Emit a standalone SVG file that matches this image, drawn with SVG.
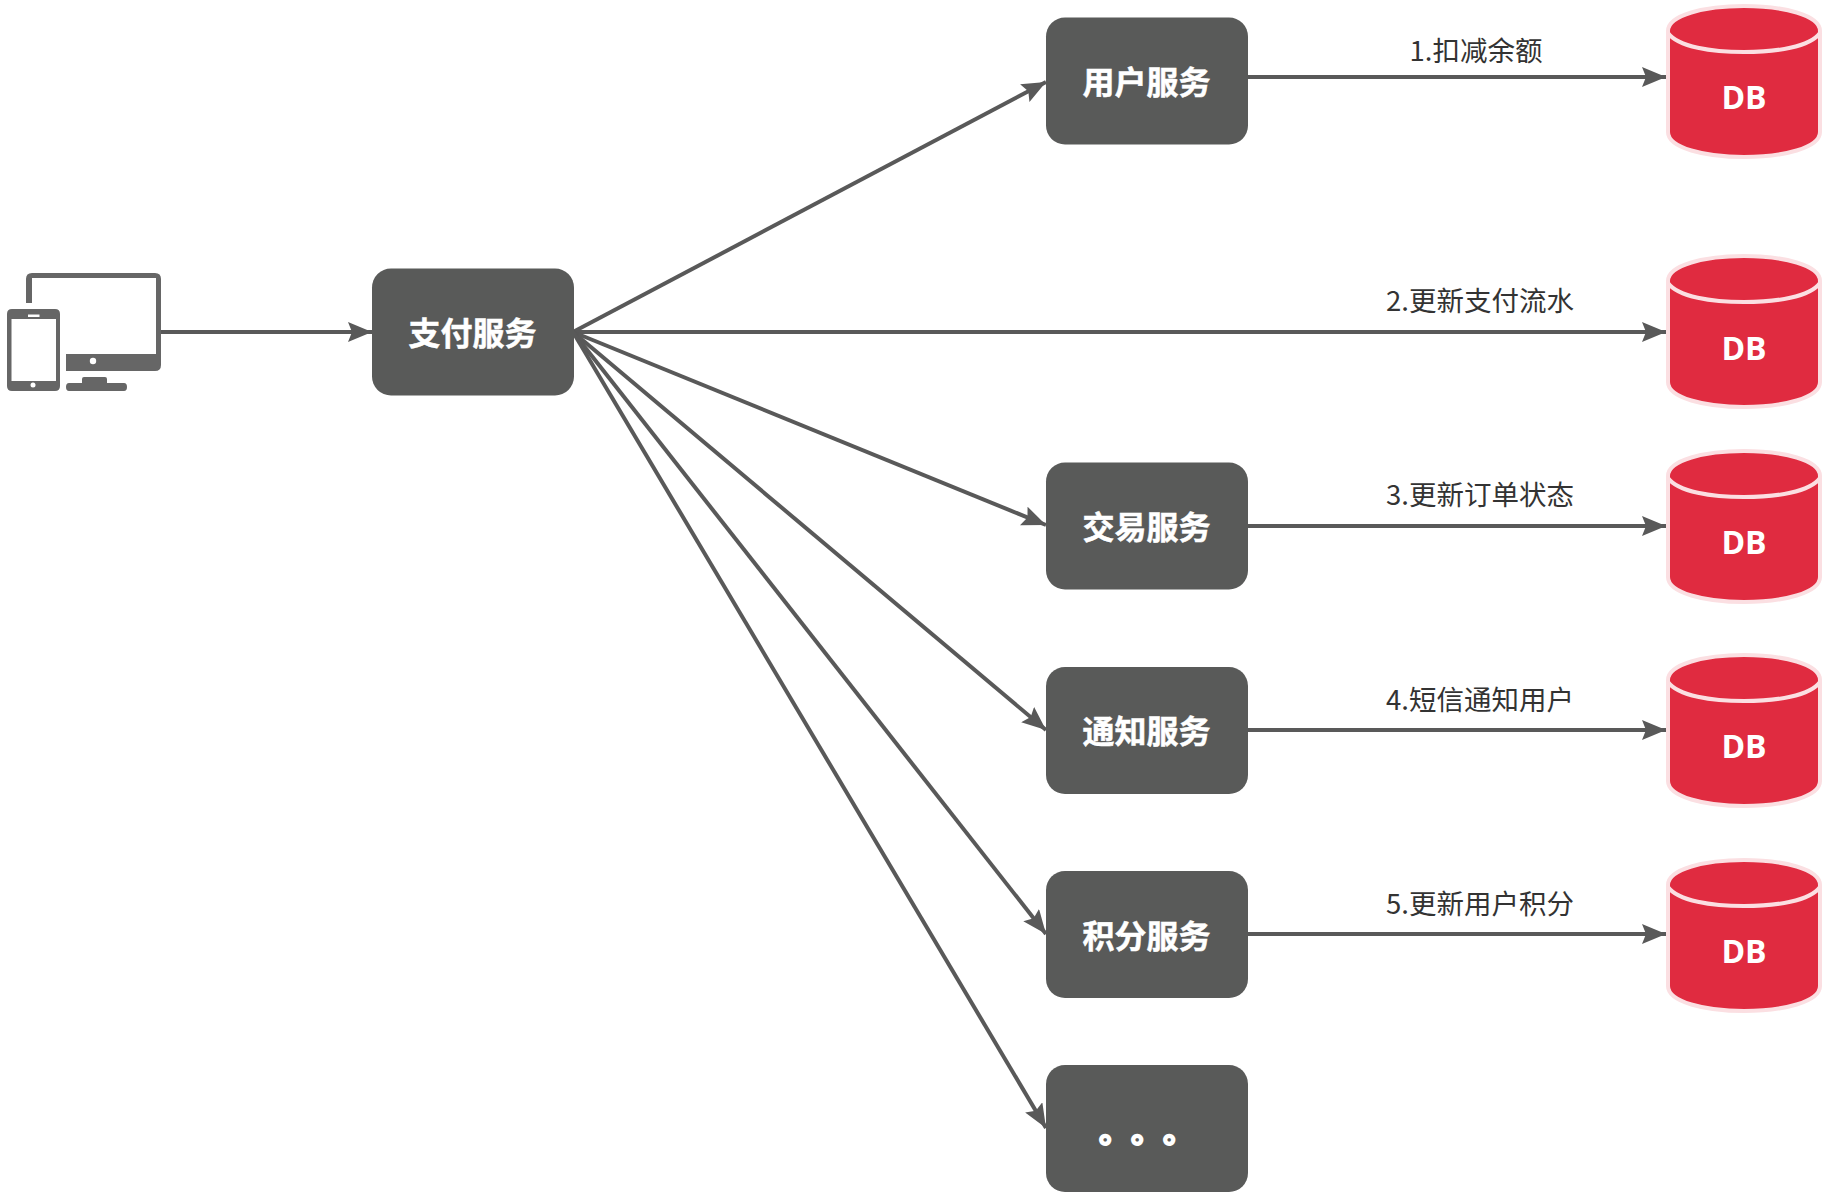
<svg xmlns="http://www.w3.org/2000/svg" width="1832" height="1196" viewBox="0 0 1832 1196">
<style>
.box{fill:#595a59}
.bt{font:bold 32px "Noto Sans CJK SC","Liberation Sans",sans-serif;fill:#fff;stroke:#fff;stroke-width:.5;text-anchor:middle}
.dt{font:bold 32px "Noto Sans CJK SC","Liberation Sans",sans-serif;fill:#fff;stroke:#fff;stroke-width:2}
.lb{font:27.500px "Noto Sans CJK SC","Liberation Sans",sans-serif;fill:#333;text-anchor:middle}
.db{font:bold 32px "Open Sans","Noto Sans",sans-serif;fill:#fff;text-anchor:middle}
.c{fill:#e02b40;stroke:#fbdfe2;stroke-width:4}
.cl{fill:none;stroke:#fbdfe2;stroke-width:4}
.ln{stroke:#595959;stroke-width:4;fill:none;marker-end:url(#a)}
.ic{fill:#666}
</style>
<defs>
<marker id="a" markerUnits="userSpaceOnUse" markerWidth="26" markerHeight="22" refX="24" refY="10" orient="auto"><path d="M24 10L0 20L4 10L0 0z" fill="#595959"/></marker>
<g id="cyl"><path class="c" d="M1 27C1 11 38 2 77 2S153 11 153 27V128C153 144 116 153 77 153S1 144 1 128Z"/><path class="cl" d="M1 29C11 43 45 48 77 48S143 43 153 29"/></g>
</defs>
<g id="connectors">
<path class="ln" d="M161 332H372"/>
<path class="ln" d="M573 332L1046 82"/>
<path class="ln" d="M573 332H1666"/>
<path class="ln" d="M573 332L1046 525"/>
<path class="ln" d="M573 332L1046 730"/>
<path class="ln" d="M573 332L1046 934"/>
<path class="ln" d="M573 332L1046 1128"/>
<path class="ln" d="M1248 77H1666"/>
<path class="ln" d="M1248 526H1666"/>
<path class="ln" d="M1248 730H1666"/>
<path class="ln" d="M1248 934H1666"/>
</g>
<g id="client">
<path class="ic" d="M26 303V279Q26 273 32 273H155Q161 273 161 279V365Q161 371 155 371H66V354H156V278H32V303Z"/>
<circle cx="93" cy="361" r="3.200" fill="#fff"/>
<path class="ic" d="M82 383V379Q82 377 84 377H105Q107 377 107 379V383H124Q127 383 127 387T124 391H69Q66 391 66 387T69 383Z"/>
<path class="ic" fill-rule="evenodd" d="M12 309H55Q60 309 60 314V386Q60 391 55 391H12Q7 391 7 386V314Q7 309 12 309ZM11.500 319V381H56V319ZM28 314.500V317H39.500V314.500Z"/>
<circle cx="33" cy="385" r="2.500" fill="#fff"/>
</g>
<g id="pay"><rect class="box" x="372" y="268.500" width="202" height="127" rx="19"/><text class="bt" x="472.500" y="345">支付服务</text></g>
<g id="user"><rect class="box" x="1046" y="17.500" width="202" height="127" rx="19"/><text class="bt" x="1146.500" y="94">用户服务</text></g>
<g id="trade"><rect class="box" x="1046" y="462.500" width="202" height="127" rx="19"/><text class="bt" x="1146.500" y="539">交易服务</text></g>
<g id="notify"><rect class="box" x="1046" y="667" width="202" height="127" rx="19"/><text class="bt" x="1146.500" y="743">通知服务</text></g>
<g id="points"><rect class="box" x="1046" y="871" width="202" height="127" rx="19"/><text class="bt" x="1146.500" y="948">积分服务</text></g>
<g id="more"><rect class="box" x="1046" y="1065" width="202" height="127" rx="19"/><text class="dt" x="1099 1131 1163" y="1142">。。。</text></g>
<g id="db1"><use href="#cyl" x="1667" y="4"/><text class="db" x="1744" y="109">DB</text></g>
<g id="db2"><use href="#cyl" x="1667" y="254"/><text class="db" x="1744" y="360">DB</text></g>
<g id="db3"><use href="#cyl" x="1667" y="449"/><text class="db" x="1744" y="554">DB</text></g>
<g id="db4"><use href="#cyl" x="1667" y="653"/><text class="db" x="1744" y="758">DB</text></g>
<g id="db5"><use href="#cyl" x="1667" y="858"/><text class="db" x="1744" y="963">DB</text></g>
<g id="labels">
<text class="lb" x="1476" y="60.500">1.扣减余额</text>
<text class="lb" x="1480" y="311">2.更新支付流水</text>
<text class="lb" x="1480" y="505">3.更新订单状态</text>
<text class="lb" x="1480" y="709.500">4.短信通知用户</text>
<text class="lb" x="1480" y="913.500">5.更新用户积分</text>
</g>
</svg>
